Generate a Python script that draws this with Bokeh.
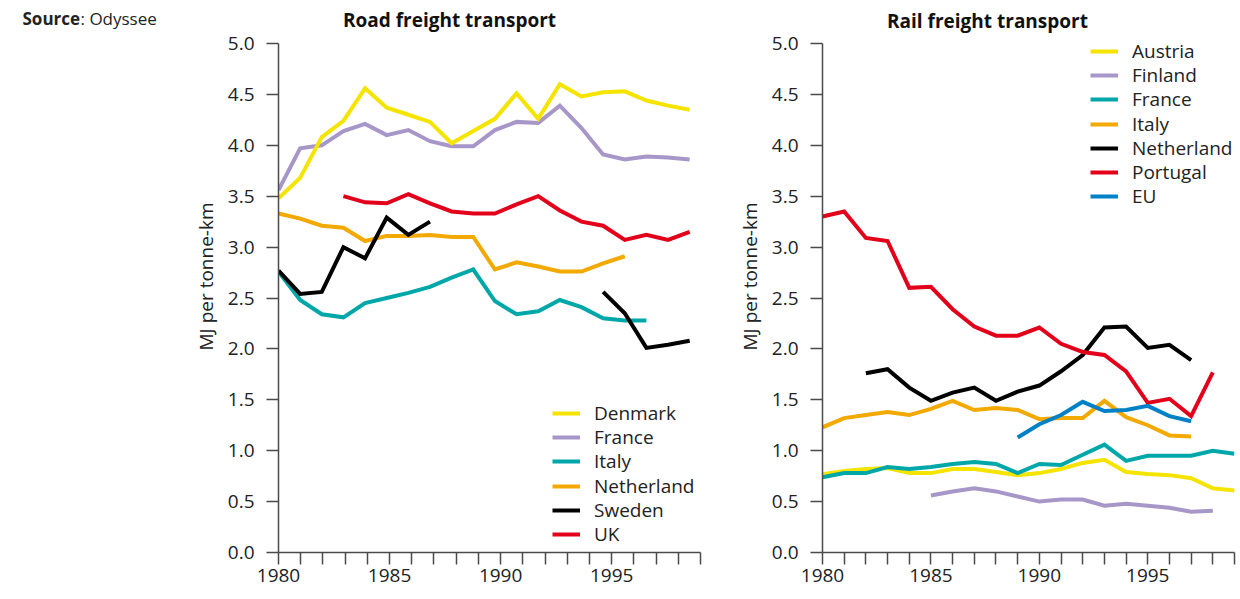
from bokeh.plotting import figure
from bokeh.models import (Range1d, FixedTicker, CustomJSTickFormatter, PrintfTickFormatter,
                          Legend, LegendItem, Label)
from bokeh.layouts import row
from bokeh.embed import file_html
from bokeh.resources import INLINE

nan = float("nan")
years = list(range(1980, 2000))
y_ticks = [0.0, 0.5, 1.0, 1.5, 2.0, 2.5, 3.0, 3.5, 4.0, 4.5, 5.0]

# ---- Road freight transport (MJ per tonne-km) ----
road_names = ["Denmark", "France", "Italy", "Netherland", "Sweden", "UK"]
road_denmark = [3.48, 3.68, 4.08, 4.24, 4.56, 4.37, 4.30, 4.23, 4.02, 4.14,
                4.26, 4.51, 4.26, 4.60, 4.48, 4.52, 4.53, 4.44, 4.39, 4.35]
road_france = [3.56, 3.97, 4.00, 4.14, 4.21, 4.10, 4.15, 4.04, 3.99, 3.99,
               4.15, 4.23, 4.22, 4.39, 4.17, 3.91, 3.86, 3.89, 3.88, 3.86]
road_italy = [2.76, 2.48, 2.34, 2.31, 2.45, 2.50, 2.55, 2.61, 2.70, 2.78,
              2.47, 2.34, 2.37, 2.48, 2.41, 2.30, 2.28, 2.28, nan, nan]
road_netherland = [3.33, 3.28, 3.21, 3.19, 3.06, 3.11, 3.11, 3.12, 3.10, 3.10,
                   2.78, 2.85, 2.81, 2.76, 2.76, 2.84, 2.91, nan, nan, nan]
road_sweden = [2.77, 2.54, 2.56, 3.00, 2.89, 3.29, 3.12, 3.25, nan, nan,
               nan, nan, nan, nan, nan, 2.56, 2.35, 2.01, 2.04, 2.08]
road_uk = [nan, nan, nan, 3.50, 3.44, 3.43, 3.52, 3.43, 3.35, 3.33,
           3.33, 3.42, 3.50, 3.36, 3.25, 3.21, 3.07, 3.12, 3.07, 3.15]

# ---- Rail freight transport (MJ per tonne-km) ----
rail_names = ["Austria", "Finland", "France", "Italy", "Netherland", "Portugal", "EU"]
rail_austria = [0.77, 0.80, 0.82, 0.83, 0.78, 0.78, 0.82, 0.82, 0.79, 0.76,
                0.78, 0.82, 0.88, 0.91, 0.79, 0.77, 0.76, 0.73, 0.63, 0.61]
rail_finland = [nan, nan, nan, nan, nan, 0.56, 0.60, 0.63, 0.60, 0.55,
                0.50, 0.52, 0.52, 0.46, 0.48, 0.46, 0.44, 0.40, 0.41, nan]
rail_france = [0.74, 0.78, 0.78, 0.84, 0.82, 0.84, 0.87, 0.89, 0.87, 0.78,
               0.87, 0.86, 0.96, 1.06, 0.90, 0.95, 0.95, 0.95, 1.00, 0.97]
rail_italy = [1.23, 1.32, 1.35, 1.38, 1.35, 1.41, 1.49, 1.40, 1.42, 1.40,
              1.31, 1.32, 1.32, 1.49, 1.33, 1.25, 1.15, 1.14, nan, nan]
rail_netherland = [nan, nan, 1.76, 1.80, 1.62, 1.49, 1.57, 1.62, 1.49, 1.58,
                   1.64, 1.78, 1.94, 2.21, 2.22, 2.01, 2.04, 1.89, nan, nan]
rail_portugal = [3.30, 3.35, 3.09, 3.06, 2.60, 2.61, 2.39, 2.22, 2.13, 2.13,
                 2.21, 2.05, 1.97, 1.94, 1.78, 1.47, 1.51, 1.34, 1.77, nan]
rail_eu = [nan, nan, nan, nan, nan, nan, nan, nan, nan, 1.13,
           1.26, 1.35, 1.48, 1.39, 1.40, 1.44, 1.34, 1.29, nan, nan]

YELLOW = "#F5E300"
PURPLE = "#A797C9"
TEAL = "#00A7A8"
ORANGE = "#F2A900"
BLACK = "#000000"
RED = "#E2001A"
BLUE = "#0080C6"

FONT = "Open Sans"
TXT = "#222222"
AXC = "#4a4a4a"
FS = "19px"

H = 599
FRAME_BOTTOM = 552   # pixel row of value 0
TOP_TICK = 43        # pixel row of value 5.0
Y_TOP = 5 * FRAME_BOTTOM / (FRAME_BOTTOM - TOP_TICK)
ROW = 24.2           # legend row pitch in px
ITEM_H = 26          # measured height of one legend item


def style_axes(p, y_label):
    p.yaxis.ticker = FixedTicker(ticks=y_ticks)
    p.yaxis.formatter = PrintfTickFormatter(format="%.1f")
    p.yaxis.bounds = (0, 5)
    for ax in (p.xaxis[0], p.yaxis[0]):
        ax.axis_line_color = AXC
        ax.axis_line_width = 1.5
        ax.major_tick_line_color = AXC
        ax.major_tick_line_width = 1.5
        ax.major_tick_out = 12
        ax.major_tick_in = 0
        ax.minor_tick_line_color = None
        ax.major_label_text_font = FONT
        ax.major_label_text_font_size = FS
        ax.major_label_text_color = TXT
    p.xaxis.major_label_standoff = 4
    p.yaxis.major_label_standoff = 12
    p.yaxis.axis_label = y_label
    p.yaxis.axis_label_text_font = FONT
    p.yaxis.axis_label_text_font_size = FS
    p.yaxis.axis_label_text_font_style = "normal"
    p.yaxis.axis_label_text_color = TXT
    p.yaxis.axis_label_standoff = 6
    p.xgrid.grid_line_color = None
    p.ygrid.grid_line_color = None
    p.outline_line_color = None


def make_legend(p, names, renderers, x, first_center):
    # one single-row legend per entry, stacked at a fixed row pitch
    for k, n in enumerate(names):
        center = first_center + k * ROW
        leg = Legend(items=[LegendItem(label=n, renderers=[renderers[n]])],
                     location=(x, FRAME_BOTTOM - (center + ITEM_H / 2)))
        leg.padding = 0
        leg.margin = 0
        leg.border_line_alpha = 0
        leg.background_fill_alpha = 0
        leg.glyph_width = 28
        leg.glyph_height = 20
        leg.label_height = 20
        leg.spacing = 0
        leg.label_standoff = 14
        leg.label_text_font = FONT
        leg.label_text_font_size = FS
        leg.label_text_color = TXT
        leg.label_text_baseline = "middle"
        p.add_layout(leg, "center")


# ---------------- source panel ----------------
sfig = figure(width=180, height=H, output_backend="svg", toolbar_location=None,
              title=None, x_range=Range1d(0, 180), y_range=Range1d(H, 0),
              x_axis_location=None, y_axis_location=None,
              min_border_left=0, min_border_right=0, min_border_top=0, min_border_bottom=0)
sfig.xgrid.grid_line_color = None
sfig.ygrid.grid_line_color = None
sfig.outline_line_color = None
sfig.add_layout(Label(x=22, y=20, text="Source", text_font=FONT, text_font_size="17px",
                      text_font_style="bold", text_color=TXT, text_baseline="middle",
                      text_align="left"))
sfig.add_layout(Label(x=80, y=20, text=": Odyssee", text_font=FONT, text_font_size="17px",
                      text_color=TXT, text_baseline="middle", text_align="left"))

# ---------------- left: road ----------------
L_LEFT, L_RIGHT = 278, 700
L_XMAX = 1999.5
left = figure(width=550, height=H, output_backend="svg", toolbar_location=None, title=None,
              x_range=Range1d(1980, L_XMAX), y_range=Range1d(0, Y_TOP),
              min_border_left=L_LEFT - 180, min_border_right=730 - L_RIGHT,
              min_border_top=0, min_border_bottom=H - FRAME_BOTTOM)
left.xaxis.ticker = FixedTicker(ticks=[1980 + k * 19.5 / 19 for k in range(20)])
left.xaxis.formatter = CustomJSTickFormatter(code="""
    const i = Math.round((tick - 1980) * 19 / 19.5);
    return (i % 5 == 0) ? String(1980 + i) : "";
""")
left.xaxis.bounds = (1980, L_XMAX)
style_axes(left, "MJ per tonne-km")

road_series = dict(zip(road_names, [road_denmark, road_france, road_italy,
                                    road_netherland, road_sweden, road_uk]))
road_colors = dict(zip(road_names, [YELLOW, PURPLE, TEAL, ORANGE, BLACK, RED]))
renders = {}
for name in ["France", "Denmark", "Italy", "Netherland", "Sweden", "UK"]:
    renders[name] = left.line(years, road_series[name], line_color=road_colors[name],
                              line_width=4, line_join="miter")
make_legend(left, road_names, renders, 552 - L_LEFT, 413)


def ydata(py):
    return (FRAME_BOTTOM - py) * 5 / (FRAME_BOTTOM - TOP_TICK)


left.add_layout(Label(x=1980 + (449 - L_LEFT) * (L_XMAX - 1980) / (L_RIGHT - L_LEFT),
                      y=ydata(19), text="Road freight transport", text_font=FONT,
                      text_font_size=FS, text_font_style="bold", text_color="#111111",
                      text_baseline="middle", text_align="center"))

# ---------------- right: rail ----------------
R_LEFT, R_RIGHT = 822, 1234
right = figure(width=510, height=H, output_backend="svg", toolbar_location=None, title=None,
               x_range=Range1d(1980, 1999), y_range=Range1d(0, Y_TOP),
               min_border_left=R_LEFT - 730, min_border_right=1240 - R_RIGHT,
               min_border_top=0, min_border_bottom=H - FRAME_BOTTOM)
right.xaxis.ticker = FixedTicker(ticks=years)
right.xaxis.formatter = CustomJSTickFormatter(code="""
    return (Math.round(tick) % 5 == 0) ? String(Math.round(tick)) : "";
""")
style_axes(right, "MJ per tonne-km")

rail_series = dict(zip(rail_names, [rail_austria, rail_finland, rail_france, rail_italy,
                                    rail_netherland, rail_portugal, rail_eu]))
rail_colors = dict(zip(rail_names, [YELLOW, PURPLE, TEAL, ORANGE, BLACK, RED, BLUE]))
rr = {}
for name in rail_names:
    rr[name] = right.line(years, rail_series[name], line_color=rail_colors[name],
                          line_width=4, line_join="miter")
make_legend(right, rail_names, rr, 1090 - R_LEFT, 51)

right.add_layout(Label(x=1980 + (987 - R_LEFT) * 19 / (R_RIGHT - R_LEFT),
                       y=ydata(20), text="Rail freight transport", text_font=FONT,
                       text_font_size=FS, text_font_style="bold", text_color="#111111",
                       text_baseline="middle", text_align="center"))

layout = row(sfig, left, right)
open("out.html", "w").write(file_html(layout, INLINE))
